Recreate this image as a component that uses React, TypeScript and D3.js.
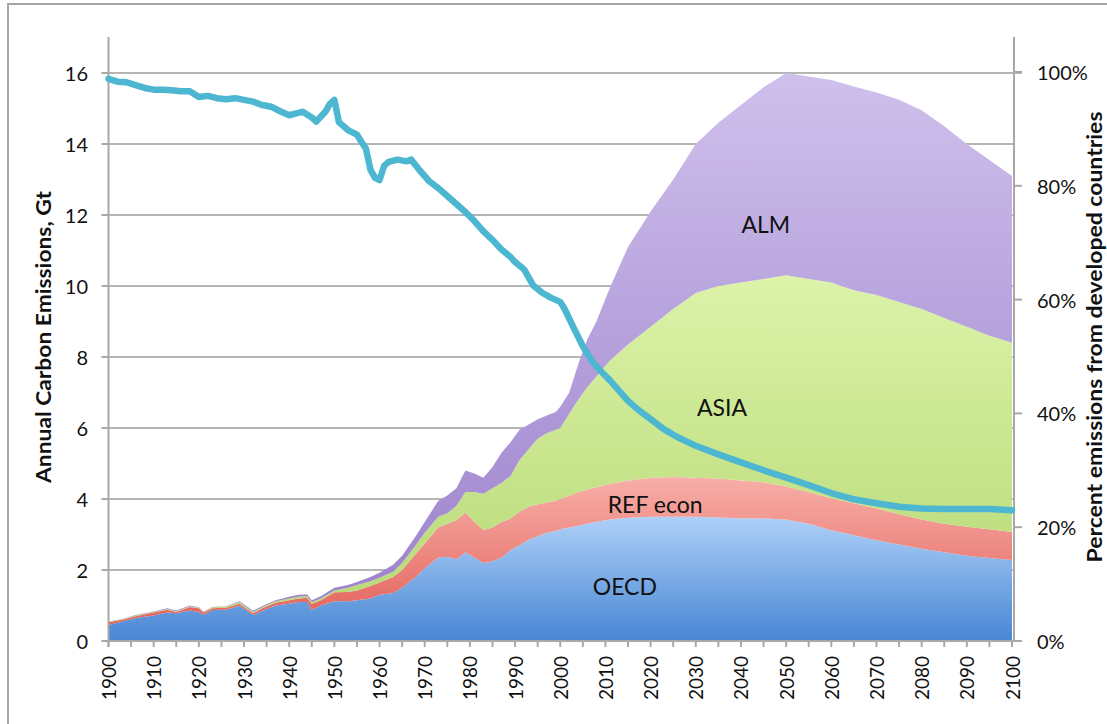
import React from 'react';
import * as d3 from 'd3';

// Stacked emissions (Gt C per year) by region
const years = [1900, 1903, 1906, 1910, 1913, 1915, 1918, 1920, 1921, 1923, 1926, 1929, 1932, 1934, 1937, 1940, 1942, 1944, 1945, 1947, 1950, 1953, 1955, 1958, 1960, 1963, 1965, 1968, 1970, 1973, 1975, 1977, 1979, 1981, 1983, 1985, 1987, 1989, 1991, 1993, 1995, 1997, 1999, 2000, 2002, 2004, 2006, 2008, 2011, 2015, 2020, 2025, 2030, 2035, 2040, 2045, 2050, 2055, 2060, 2065, 2070, 2075, 2080, 2085, 2090, 2095, 2100];
const oecd = [0.45, 0.55, 0.65, 0.72, 0.8, 0.78, 0.86, 0.82, 0.73, 0.87, 0.88, 0.99, 0.73, 0.85, 1.0, 1.05, 1.1, 1.1, 0.87, 1.0, 1.12, 1.12, 1.15, 1.2, 1.3, 1.35, 1.5, 1.8, 2.05, 2.35, 2.37, 2.3, 2.5, 2.35, 2.2, 2.25, 2.35, 2.56, 2.7, 2.85, 2.95, 3.05, 3.1, 3.15, 3.2, 3.25, 3.3, 3.36, 3.42, 3.47, 3.5, 3.5, 3.5, 3.48, 3.46, 3.45, 3.42, 3.3, 3.12, 2.98, 2.84, 2.72, 2.6, 2.5, 2.4, 2.34, 2.28];
const refEcon = [0.08, 0.05, 0.05, 0.08, 0.08, 0.04, 0.1, 0.1, 0.07, 0.05, 0.06, 0.06, 0.05, 0.07, 0.08, 0.1, 0.1, 0.12, 0.18, 0.15, 0.25, 0.26, 0.27, 0.35, 0.35, 0.45, 0.5, 0.65, 0.7, 0.85, 0.93, 1.1, 1.13, 1.0, 0.93, 0.95, 1.0, 0.89, 0.95, 0.93, 0.9, 0.85, 0.85, 0.85, 0.9, 0.95, 0.97, 0.97, 1.0, 1.05, 1.1, 1.12, 1.1, 1.1, 1.06, 1.02, 0.93, 0.9, 0.9, 0.9, 0.89, 0.85, 0.82, 0.8, 0.82, 0.81, 0.79];
const asia = [0.01, 0.01, 0.02, 0.02, 0.02, 0.02, 0.02, 0.02, 0.02, 0.03, 0.03, 0.05, 0.04, 0.03, 0.04, 0.05, 0.05, 0.05, 0.05, 0.05, 0.05, 0.12, 0.16, 0.13, 0.13, 0.15, 0.2, 0.25, 0.3, 0.3, 0.3, 0.4, 0.57, 0.85, 1.02, 1.1, 1.1, 1.2, 1.45, 1.62, 1.85, 1.95, 2.0, 2.0, 2.3, 2.6, 2.88, 3.12, 3.48, 3.83, 4.25, 4.73, 5.2, 5.42, 5.58, 5.73, 5.95, 6.0, 6.08, 6.0, 6.02, 5.98, 5.93, 5.8, 5.63, 5.45, 5.33];
const alm = [0.01, 0.01, 0.01, 0.01, 0.02, 0.02, 0.02, 0.01, 0.01, 0.01, 0.01, 0.02, 0.03, 0.03, 0.03, 0.05, 0.05, 0.04, 0.05, 0.06, 0.08, 0.08, 0.08, 0.12, 0.14, 0.2, 0.2, 0.25, 0.3, 0.45, 0.5, 0.5, 0.6, 0.52, 0.45, 0.6, 0.85, 0.95, 0.85, 0.7, 0.55, 0.5, 0.5, 0.6, 0.6, 1.0, 1.35, 1.55, 2.05, 2.75, 3.25, 3.65, 4.2, 4.6, 5.0, 5.4, 5.7, 5.7, 5.7, 5.74, 5.7, 5.7, 5.6, 5.4, 5.15, 4.95, 4.7];

// Percent of emissions from developed countries (right axis)
const pctYears = [1900, 1902, 1904, 1906, 1908, 1910, 1912, 1914, 1916, 1918, 1920, 1922, 1924, 1926, 1928, 1930, 1932, 1934, 1936, 1938, 1940, 1942, 1943, 1945, 1946, 1948, 1949, 1950, 1951, 1953, 1955, 1956, 1957, 1958, 1959, 1960, 1961, 1962, 1964, 1966, 1967, 1969, 1971, 1973, 1975, 1977, 1979, 1981, 1983, 1985, 1987, 1989, 1990, 1992, 1994, 1996, 1998, 2000, 2001, 2003, 2005, 2007, 2009, 2011, 2013, 2015, 2017, 2020, 2023, 2026, 2030, 2035, 2040, 2045, 2050, 2055, 2060, 2065, 2070, 2075, 2080, 2085, 2090, 2095, 2100];
const pctDeveloped = [98.8, 98.3, 98.2, 97.7, 97.2, 96.9, 96.9, 96.8, 96.6, 96.6, 95.6, 95.8, 95.4, 95.2, 95.4, 95.1, 94.8, 94.2, 93.9, 93.1, 92.4, 92.8, 93.0, 92.0, 91.3, 93.0, 94.4, 95.1, 91.2, 89.8, 89.0, 87.7, 86.5, 82.8, 81.4, 81.0, 83.5, 84.2, 84.6, 84.3, 84.6, 82.6, 80.8, 79.6, 78.2, 76.8, 75.4, 73.8, 72.0, 70.5, 68.8, 67.5, 66.6, 65.3, 62.5, 61.2, 60.3, 59.6, 58.3, 55.0, 51.8, 49.2, 47.4, 45.8, 44.0, 42.2, 40.8, 39.0, 37.2, 35.8, 34.3, 32.8, 31.4, 30.0, 28.7, 27.4, 26.0, 24.9, 24.2, 23.6, 23.3, 23.2, 23.2, 23.2, 23.0];

const leftTicks = [0, 2, 4, 6, 8, 10, 12, 14, 16];
const rightTicks = [0, 20, 40, 60, 80, 100];
const xLabelYears = [1900, 1910, 1920, 1930, 1940, 1950, 1960, 1970, 1980, 1990, 2000, 2010, 2020, 2030, 2040, 2050, 2060, 2070, 2080, 2090, 2100];
const xMinorYears = d3.range(1900, 2101, 5);

const seriesKeys = ['OECD', 'REF', 'ASIA', 'ALM'];
const seriesColors: Record<string, [string, string]> = {
  OECD: ['#aed0f8', '#4886d4'],
  REF: ['#f8aea8', '#e2625b'],
  ASIA: ['#dcf3a9', '#b6d874'],
  ALM: ['#cfc0ec', '#9b80cb'],
};
const areaLabels = [
  { text: 'ALM', year: 2045.5, v: 11.75 },
  { text: 'ASIA', year: 2035.8, v: 6.6 },
  { text: 'REF econ', year: 2021, v: 3.87 },
  { text: 'OECD', year: 2014.3, v: 1.55 },
];

export default function App() {
  const W = 1107;
  const H = 724;
  const font = "Lato, 'Open Sans', sans-serif";
  const x = d3.scaleLinear().domain([1900, 2100]).range([108.5, 1012]);
  const y = d3.scaleLinear().domain([0, 16]).range([641, 73]);
  const yp = d3.scaleLinear().domain([0, 100]).range([641, 72]);
  const axisTop = 37;
  const rightAxisX = 1014;

  const rows = years.map((yr, i) => ({ year: yr, OECD: oecd[i], REF: refEcon[i], ASIA: asia[i], ALM: alm[i] }));
  const stacked = d3.stack<any>().keys(seriesKeys)(rows);
  const area = d3
    .area<any>()
    .x((d) => x(d.data.year))
    .y0((d) => y(d[0]))
    .y1((d) => y(d[1]));
  const line = d3
    .line<number>()
    .x((_, i) => x(pctYears[i]))
    .y((d) => yp(d));

  const gridColor = '#b5b5b5';
  const axisColor = '#a8a8a8';

  return (
    <svg width={W} height={H} style={{ position: 'absolute', left: 0, top: 0, background: '#fff' }} fontFamily={font}>
      <defs>
        {seriesKeys.map((k) => (
          <linearGradient key={k} id={`grad-${k}`} x1="0" y1="0" x2="0" y2="1">
            <stop offset="0" stopColor={seriesColors[k][0]} />
            <stop offset="1" stopColor={seriesColors[k][1]} />
          </linearGradient>
        ))}
      </defs>
      <rect x={0} y={0} width={W} height={H} fill="#fff" />
      <rect x={8} y={4} width={1300} height={900} fill="none" stroke="#a4a4a4" strokeWidth={2} />

      {/* gridlines */}
      {leftTicks.filter((t) => t > 0).map((t) => (
        <line key={t} x1={x(1900)} x2={t === 16 ? rightAxisX + 8 : rightAxisX} y1={y(t)} y2={y(t)} stroke={gridColor} strokeWidth={2} />
      ))}

      {/* stacked areas */}
      {stacked.map((s) => (
        <path key={s.key} d={area(s) || ''} fill={`url(#grad-${s.key})`} />
      ))}

      {/* axes */}
      <line x1={x(1900)} x2={x(1900)} y1={axisTop} y2={y(0) + 6} stroke={axisColor} strokeWidth={2} />
      <line x1={rightAxisX} x2={rightAxisX} y1={axisTop} y2={y(0)} stroke={axisColor} strokeWidth={2} />
      <line x1={x(1900) - 7} x2={rightAxisX + 8} y1={y(0)} y2={y(0)} stroke={axisColor} strokeWidth={2} />
      {leftTicks.map((t) => (
        <line key={`lt${t}`} x1={x(1900) - 7} x2={x(1900)} y1={y(t)} y2={y(t)} stroke={axisColor} strokeWidth={2} />
      ))}
      {rightTicks.map((t) => (
        <line key={`rt${t}`} x1={rightAxisX} x2={rightAxisX + 8} y1={yp(t)} y2={yp(t)} stroke={axisColor} strokeWidth={2} />
      ))}
      {xMinorYears.map((yr) => (
        <line key={`xt${yr}`} x1={x(yr)} x2={x(yr)} y1={y(0)} y2={y(0) + 6} stroke={axisColor} strokeWidth={2} />
      ))}

      {/* percent line */}
      <path d={line(pctDeveloped) || ''} fill="none" stroke="#4db7d1" strokeWidth={6.5} strokeLinejoin="round" strokeLinecap="round" />

      {/* area labels */}
      {areaLabels.map((l) => (
        <text key={l.text} x={x(l.year)} y={y(l.v)} textAnchor="middle" dominantBaseline="central" fontSize={23} fill="#111">
          {l.text}
        </text>
      ))}

      {/* tick labels */}
      {leftTicks.map((t) => (
        <text key={`ll${t}`} x={88} y={y(t)} textAnchor="end" dominantBaseline="central" fontSize={20} fill="#111">
          {t}
        </text>
      ))}
      {rightTicks.map((t) => (
        <text key={`rl${t}`} x={1037} y={yp(t)} textAnchor="start" dominantBaseline="central" fontSize={20} fill="#111">
          {`${t}%`}
        </text>
      ))}
      {xLabelYears.map((yr) => (
        <text
          key={`xl${yr}`}
          transform={`translate(${x(yr)},${656}) rotate(-90)`}
          textAnchor="end"
          dominantBaseline="central"
          fontSize={19}
          fill="#111"
        >
          {yr}
        </text>
      ))}

      {/* axis titles */}
      <text
        transform={`translate(43,337) rotate(-90)`}
        textAnchor="middle"
        dominantBaseline="central"
        fontSize={20}
        fontWeight="bold"
        fill="#111"
        textLength={292}
        lengthAdjust="spacingAndGlyphs"
      >
        Annual Carbon Emissions, Gt
      </text>
      <text
        transform={`translate(1094,337) rotate(-90)`}
        textAnchor="middle"
        dominantBaseline="central"
        fontSize={20.5}
        fontWeight="bold"
        fill="#111"
        textLength={451}
        lengthAdjust="spacingAndGlyphs"
      >
        Percent emissions from developed countries
      </text>
    </svg>
  );
}
